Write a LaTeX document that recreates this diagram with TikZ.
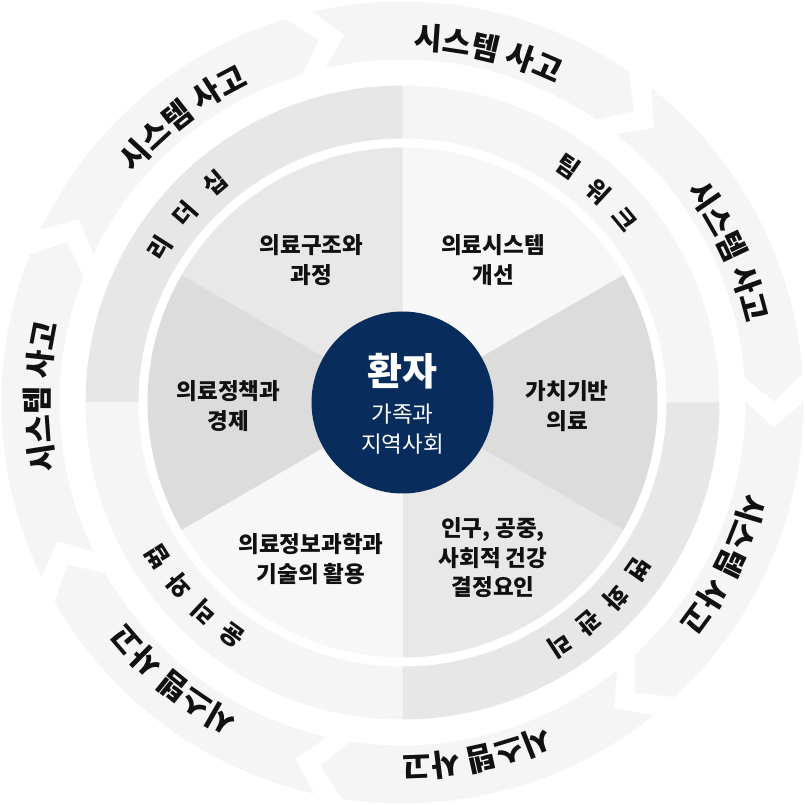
\documentclass[tikz,border=0pt]{standalone}
\usepackage{fontspec}
\setmainfont{Noto Sans CJK KR}
\definecolor{navy}{RGB}{8,45,92}
\definecolor{ringlight}{RGB}{245,245,245}
\definecolor{gA}{RGB}{247,247,247}
\definecolor{gB}{RGB}{232,232,232}
\definecolor{gC}{RGB}{220,220,220}
\definecolor{mA}{RGB}{231,231,231}
\definecolor{mB}{RGB}{245,245,245}
\definecolor{txt}{RGB}{17,17,17}
\begin{document}
\begin{tikzpicture}[x=1pt,y=1pt,
  sectortext/.style={align=center,text=txt,font=\bfseries\fontsize{22.5}{29.5}\selectfont},
  ringglyph/.style={text=txt,inner sep=0pt,font=\bfseries\fontsize{24.5}{24.5}\selectfont},
  outerglyph/.style={text=txt,inner sep=0pt,font=\bfseries\fontsize{30.5}{30.5}\selectfont}]
\useasboundingbox[fill=white] (-402.5,-402.5) rectangle (402.5,402.5);
% outer arrow ring: 7 segments
\foreach \k in {0,...,6}{
  \pgfmathsetmacro\as{103-51.4286*\k}
  \pgfmathsetmacro\ae{\as-47.4286}
  \pgfmathsetmacro\at{\ae-4}
  \pgfmathsetmacro\an{\as-4}
  \fill[ringlight] (\as:401) arc[start angle=\as,end angle=\ae,radius=401]
     -- (\at:372) -- (\ae:343) arc[start angle=\ae,end angle=\as,radius=343]
     -- (\an:372) -- cycle;
  \pgfmathsetmacro\tc{\as-26.8}
  \foreach \o/\c [count=\i] in {9.68/시,5.12/스,0.55/템,-5.12/사,-9.68/고}{
    \pgfmathsetmacro\ga{\tc+\o}
    \node[outerglyph,rotate=\ga-90] (o\k-\i) at (\ga:365) {\c};
  }
}
% middle ring quadrants
\fill[mB] (0:264) -- (0:317) arc[start angle=0,end angle=90,radius=317] -- (90:264) arc[start angle=90,end angle=0,radius=264] -- cycle;
\fill[mA] (90:264) -- (90:317) arc[start angle=90,end angle=180,radius=317] -- (180:264) arc[start angle=180,end angle=90,radius=264] -- cycle;
\fill[mB] (180:264) -- (180:317) arc[start angle=180,end angle=270,radius=317] -- (270:264) arc[start angle=270,end angle=180,radius=264] -- cycle;
\fill[mA] (270:264) -- (270:317) arc[start angle=270,end angle=360,radius=317] -- (360:264) arc[start angle=360,end angle=270,radius=264] -- cycle;
% middle ring texts
\foreach \a/\c [count=\i] in {147.5/리,139/더,130.5/십}{
  \node[ringglyph,rotate=\a-90] (lead\i) at (\a:288) {\c};}
\foreach \a/\c [count=\i] in {54.9/팀,47.2/워,39.5/크}{
  \node[ringglyph,rotate=\a-90] (team\i) at (\a:288) {\c};}
\foreach \a/\c [count=\i] in {-35.15/변,-42.45/화,-49.75/관,-57.05/리}{
  \node[ringglyph,rotate=\a-90] (chg\i) at (\a:289) {\c};}
\foreach \a/\c [count=\i] in {233.8/윤,226.6/리,219.4/와,212.2/법}{
  \node[ringglyph,rotate=\a-90] (eth\i) at (\a:289) {\c};}
% inner sectors
\fill[gA] (0,0) -- (30:255) arc[start angle=30,end angle=90,radius=255] -- cycle;
\fill[gB] (0,0) -- (90:255) arc[start angle=90,end angle=150,radius=255] -- cycle;
\fill[gC] (0,0) -- (150:255) arc[start angle=150,end angle=210,radius=255] -- cycle;
\fill[gA] (0,0) -- (210:255) arc[start angle=210,end angle=270,radius=255] -- cycle;
\fill[gB] (0,0) -- (270:255) arc[start angle=270,end angle=330,radius=255] -- cycle;
\fill[gC] (0,0) -- (330:255) arc[start angle=330,end angle=390,radius=255] -- cycle;
% sector texts
\node[sectortext] (s1) at (-91,142.5) {의료구조와\\과정};
\node[sectortext] (s2) at (90.5,142.5) {의료시스템\\개선};
\node[sectortext] (s3) at (-174,-3.5) {의료정책과\\경제};
\node[sectortext] (s4) at (164.5,-3.5) {가치기반\\의료};
\node[sectortext] (s5) at (-91.5,-156.5) {의료정보과학과\\기술의 활용};
\node[sectortext] (s6) at (90.5,-155.5) {인구, 공중,\\사회적 건강\\결정요인};
% center
\node[circle,fill=navy,minimum size=182pt,inner sep=0pt] (core) at (0,0) {};
\node[text=white,font=\bfseries\fontsize{38}{38}\selectfont] (pt) at (0,31) {환자};
\node[text=white,align=center,font=\fontsize{22.5}{30}\selectfont] (fam) at (0,-26.5) {가족과\\지역사회};
\end{tikzpicture}
\end{document}
